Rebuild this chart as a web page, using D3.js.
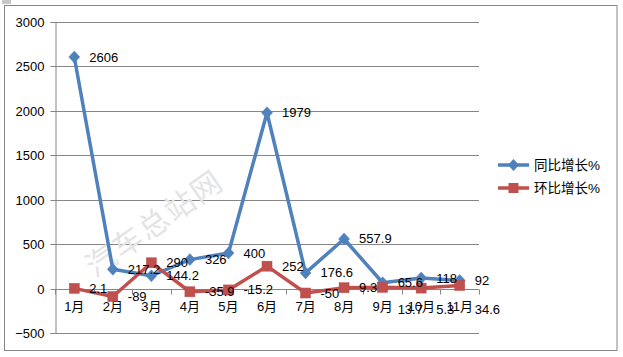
<!DOCTYPE html>
<html>
<head>
<meta charset="utf-8">
<script src="https://cdn.jsdelivr.net/npm/d3@7"></script>
<style>
  html, body { margin: 0; padding: 0; background: #fff; }
  svg { display: block; }
  text { font-family: "Liberation Sans", Arial, "Noto Sans CJK SC", sans-serif; }
</style>
</head>
<body>
<svg id="chart" width="623" height="357"></svg>
<script>
const months = ["1月","2月","3月","4月","5月","6月","7月","8月","9月","10月","11月"];
const yoy = [2606, 217.2, 144.2, 326, 400, 1979, 176.6, 557.9, 65.6, 118, 92];
const mom = [2.1, -89, 290, -35.9, -15.2, 252, -50, 9.3, 13.7, 5.3, 34.6];
const yTicks = [-500, 0, 500, 1000, 1500, 2000, 2500, 3000];
const seriesNames = ["同比增长%", "环比增长%"];

const svg = d3.select("#chart");
const blue = "#4F81BD", red = "#C0504D", grid = "#868686";

// outer frame
svg.append("rect").attr("x", 4.5).attr("y", 5.5).attr("width", 612.5).attr("height", 345)
  .attr("fill", "#fff").attr("stroke", "#868686").attr("stroke-width", 1);
svg.append("rect").attr("x", 2).attr("y", 0).attr("width", 9).attr("height", 4).attr("fill", "#c8c8c8");

const x = d3.scaleBand().domain(months).range([55, 479]).padding(0);
const y = d3.scaleLinear().domain([-500, 3000]).range([333, 22]);
const cx = m => x(m) + x.bandwidth() / 2;

// gridlines
svg.append("g").selectAll("line").data(yTicks).join("line")
  .attr("x1", 55).attr("x2", 479)
  .attr("y1", d => Math.round(y(d)) + 0.5).attr("y2", d => Math.round(y(d)) + 0.5)
  .attr("stroke", grid).attr("stroke-width", 1);

// y axis
const yAxis = svg.append("g").attr("transform", "translate(55.5,0)")
  .call(d3.axisLeft(y).tickValues(yTicks).tickSize(5).tickPadding(6).tickFormat(d3.format("d")));
yAxis.select(".domain").attr("stroke", grid);
yAxis.selectAll(".tick line").attr("stroke", grid);
yAxis.selectAll(".tick").attr("transform", d => `translate(0,${Math.round(y(d)) + 0.5})`);
yAxis.selectAll("text").attr("font-size", 13).attr("fill", "#000")
  .attr("font-family", "Liberation Sans, Arial, sans-serif");

// x axis at zero
const zeroY = Math.round(y(0)) + 0.5;
svg.append("line").attr("x1", 55).attr("x2", 479).attr("y1", zeroY).attr("y2", zeroY)
  .attr("stroke", grid);
const bounds = months.map(m => x(m)).concat([x(months[months.length - 1]) + x.bandwidth()]);
svg.append("g").selectAll("line").data(bounds).join("line")
  .attr("x1", d => Math.round(d) + 0.5).attr("x2", d => Math.round(d) + 0.5)
  .attr("y1", zeroY).attr("y2", zeroY + 5).attr("stroke", grid);
svg.append("g").selectAll("text").data(months).join("text")
  .attr("x", d => cx(d)).attr("y", zeroY + 17)
  .attr("text-anchor", "middle").attr("dominant-baseline", "central")
  .attr("font-size", 13).attr("fill", "#000")
  .attr("font-family", "Liberation Sans, Arial, 'Noto Sans CJK SC', sans-serif")
  .text(d => d);

// watermark
svg.append("text").attr("transform", "translate(95,278) rotate(-35)")
  .attr("font-size", 30).attr("fill", "#e4e4e4")
  .attr("font-family", "'Noto Sans CJK SC', sans-serif")
  .attr("letter-spacing", 2)
  .text("汽车总站网");

const line = d3.line().x((d, i) => cx(months[i])).y(d => y(d));

// series 1 (blue)
svg.append("path").datum(yoy).attr("d", line).attr("fill", "none")
  .attr("stroke", blue).attr("stroke-width", 3.5).attr("stroke-linejoin", "round");
svg.append("g").selectAll("path").data(yoy).join("path")
  .attr("d", "M0,-6L5.5,0L0,6L-5.5,0Z")
  .attr("transform", (d, i) => `translate(${cx(months[i])},${y(d)})`)
  .attr("fill", blue).attr("stroke", blue).attr("stroke-width", 0.5);

// series 2 (red)
svg.append("path").datum(mom).attr("d", line).attr("fill", "none")
  .attr("stroke", red).attr("stroke-width", 3.5).attr("stroke-linejoin", "round");
svg.append("g").selectAll("rect").data(mom).join("rect")
  .attr("x", (d, i) => cx(months[i]) - 5).attr("y", d => y(d) - 5)
  .attr("width", 10).attr("height", 10)
  .attr("fill", red).attr("stroke", "#b84a47").attr("stroke-width", 0.5);

// data labels
const fmt = d => String(d);
svg.append("g").selectAll("text").data(yoy).join("text")
  .attr("x", (d, i) => cx(months[i]) + 15).attr("y", d => y(d))
  .attr("dominant-baseline", "central").attr("font-size", 13).attr("fill", "#000")
  .text(fmt);
svg.append("g").selectAll("text").data(mom).join("text")
  .attr("x", (d, i) => cx(months[i]) + 15)
  .attr("y", (d, i) => i >= 8 ? zeroY + 20 : y(d))
  .attr("dominant-baseline", "central").attr("font-size", 13).attr("fill", "#000")
  .text(fmt);

// legend
const leg = svg.append("g");
const legY = [165, 188];
const colors = [blue, red];
seriesNames.forEach((name, i) => {
  leg.append("line").attr("x1", 498).attr("x2", 529).attr("y1", legY[i]).attr("y2", legY[i])
    .attr("stroke", colors[i]).attr("stroke-width", 3.5);
  if (i === 0) {
    leg.append("path").attr("d", "M0,-6L5.5,0L0,6L-5.5,0Z")
      .attr("transform", `translate(513.5,${legY[i]})`).attr("fill", blue);
  } else {
    leg.append("rect").attr("x", 508.5).attr("y", legY[i] - 5).attr("width", 10).attr("height", 10)
      .attr("fill", red);
  }
  leg.append("text").attr("x", 534).attr("y", legY[i]).attr("dominant-baseline", "central")
    .attr("font-size", 13.5).attr("fill", "#000")
    .attr("font-family", "'Noto Sans CJK SC', sans-serif")
    .text(name);
});
</script>
</body>
</html>
